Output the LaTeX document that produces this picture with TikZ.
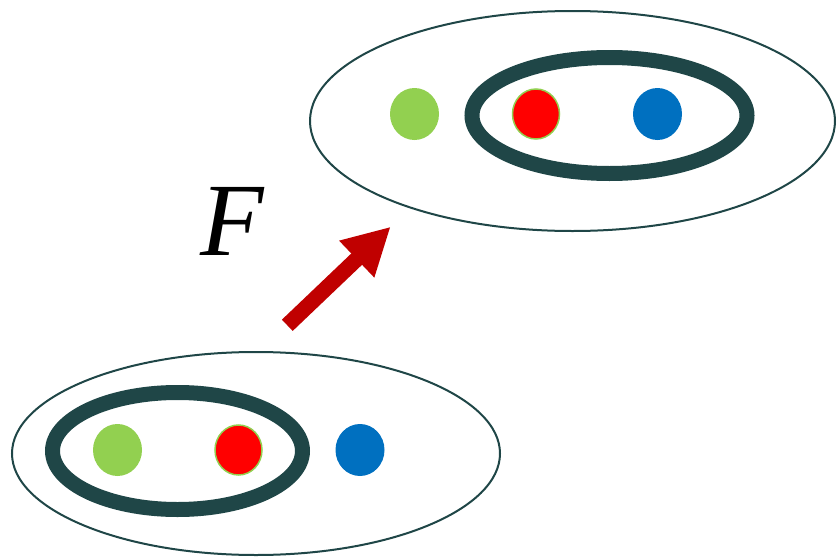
\documentclass[tikz,border=0pt]{standalone}
\usepackage{fontspec}
\setmainfont{Liberation Serif}
\usetikzlibrary{shapes.geometric,arrows.meta}
\definecolor{setline}{HTML}{1F4647}
\definecolor{dotgreen}{HTML}{92D050}
\definecolor{dotred}{HTML}{FF0000}
\definecolor{dotblue}{HTML}{0070C0}
\definecolor{arrowred}{HTML}{C00000}
\tikzset{
  outerset/.style={ellipse, draw=setline, line width=2pt, inner sep=0pt},
  innerset/.style={ellipse, draw=setline, line width=15pt, inner sep=0pt},
  dotbase/.style={ellipse, inner sep=0pt, minimum width=49pt, minimum height=52pt},
  gdot/.style={dotbase, fill=dotgreen},
  rdot/.style={dotbase, fill=dotred, draw=dotgreen, line width=1.5pt, minimum width=47pt, minimum height=50pt},
  bdot/.style={dotbase, fill=dotblue},
  maparrow/.style={draw=arrowred, line width=15.6pt, -{Triangle[width=47.4pt,length=47pt]}}
}
\begin{document}
\begin{tikzpicture}[x=1pt,y=-1pt]
\useasboundingbox (0,0) rectangle (839,557);
% top set
\node[outerset, minimum width=525pt, minimum height=220pt] (topout) at (572.5,121) {};
\node[innerset, minimum width=275pt, minimum height=116pt] (topin) at (609.5,115.5) {};
\node[gdot] (tg) at (414.5,114) {};
\node[rdot] (tr) at (536,114) {};
\node[bdot] (tb) at (657.5,114) {};
% bottom set
\node[outerset, minimum width=488pt, minimum height=203pt] (botout) at (256,453.5) {};
\node[innerset, minimum width=250pt, minimum height=117pt] (botin) at (177.5,451) {};
\node[gdot] (bg) at (117.5,450) {};
\node[rdot] (br) at (238.5,450) {};
\node[bdot] (bb) at (360,450) {};
% arrow
\coordinate (atail) at (287.3,325.3);
\coordinate (ahead) at (390.7,226.7);
\draw[maparrow] (atail) -- (ahead);
\node[inner sep=0pt] (flabel) at (232,221) {\fontsize{104}{104}\selectfont\itshape F};
\end{tikzpicture}
\end{document}
